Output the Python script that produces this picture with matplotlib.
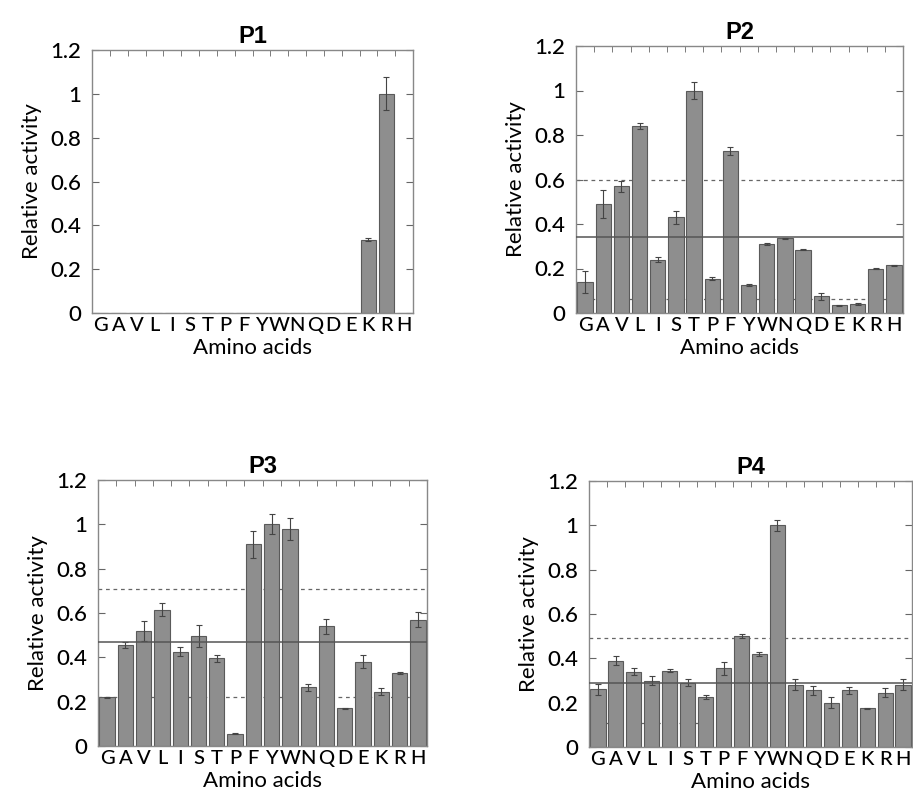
import matplotlib.pyplot as plt
import numpy as np
from matplotlib.ticker import FormatStrFormatter, FixedLocator

amino = ['G', 'A', 'V', 'L', 'I', 'S', 'T', 'P', 'F', 'Y', 'W', 'N', 'Q', 'D', 'E', 'K', 'R', 'H']

p1_vals = [0, 0, 0, 0, 0, 0, 0, 0, 0, 0, 0, 0, 0, 0, 0, 0.335, 1.0, 0]
p1_err = [0, 0, 0, 0, 0, 0, 0, 0, 0, 0, 0, 0, 0, 0, 0, 0.008, 0.075, 0]

p2_vals = [0.14, 0.49, 0.57, 0.84, 0.24, 0.43, 1.0, 0.155, 0.73, 0.125, 0.31, 0.335, 0.285, 0.075, 0.035, 0.042, 0.2, 0.215]
p2_err = [0.05, 0.065, 0.025, 0.015, 0.012, 0.03, 0.04, 0.005, 0.018, 0.004, 0.005, 0.003, 0.003, 0.015, 0.002, 0.004, 0.003, 0.002]
p2_mean, p2_hi, p2_lo = 0.34, 0.6, 0.065

p3_vals = [0.22, 0.455, 0.52, 0.615, 0.425, 0.495, 0.395, 0.055, 0.91, 1.0, 0.98, 0.265, 0.54, 0.17, 0.38, 0.245, 0.33, 0.57]
p3_err = [0.002, 0.015, 0.045, 0.03, 0.02, 0.05, 0.015, 0.003, 0.06, 0.045, 0.05, 0.015, 0.035, 0.003, 0.03, 0.015, 0.003, 0.035]
p3_mean, p3_hi, p3_lo = 0.47, 0.71, 0.22

p4_vals = [0.26, 0.39, 0.34, 0.30, 0.345, 0.29, 0.225, 0.355, 0.50, 0.42, 1.0, 0.28, 0.255, 0.20, 0.255, 0.175, 0.245, 0.28]
p4_err = [0.025, 0.02, 0.015, 0.02, 0.008, 0.015, 0.008, 0.03, 0.01, 0.01, 0.025, 0.025, 0.02, 0.025, 0.015, 0.003, 0.02, 0.025]
p4_mean, p4_hi, p4_lo = 0.29, 0.49, 0.11

W, H = 913, 795
fig = plt.figure(figsize=(W / 100, H / 100), dpi=100)
plt.rcParams['font.family'] = ['Lato', 'DejaVu Sans']


def make_axes(l, t, r, b):
    return fig.add_axes([l / W, 1 - b / H, (r - l) / W, (b - t) / H])


def panel(ax, title, vals, err, lines=None, lo_span=1.0):
    x = np.arange(len(amino))
    if lines is not None:
        mean, hi, lo = lines
        ax.axhline(hi, color='#666666', lw=0.9, ls=(0, (3, 3)), zorder=1)
        ax.axhline(lo, color='#666666', lw=0.9, ls=(0, (3, 3)), xmax=lo_span, zorder=1)
        ax.axhline(mean, color='#555555', lw=1.1, zorder=4)
    ax.bar(x, vals, width=0.84, color='#8e8e8e', edgecolor='#5a5a5a', linewidth=0.8, zorder=2)
    e = np.array(err)
    show = e > 0
    ax.errorbar(x[show], np.array(vals)[show], yerr=e[show], fmt='none',
                ecolor='#444444', elinewidth=0.8, capsize=2, capthick=0.8, zorder=3)
    ax.set_xlim(-0.5, len(amino) - 0.5)
    ax.set_ylim(0, 1.2)
    ax.set_yticks(np.arange(0, 1.21, 0.2))
    ax.yaxis.set_major_formatter(FormatStrFormatter('%g'))
    ax.set_xticks(x)
    ax.set_xticklabels(amino, fontsize=14.5, fontweight='medium')
    ax.xaxis.set_minor_locator(FixedLocator(np.arange(0.5, len(amino) - 1, 1.0)))
    ax.tick_params(axis='x', which='major', length=0, pad=3)
    ax.tick_params(axis='x', which='minor', top=True, bottom=False, direction='in', length=4, color='#666666')
    ax.tick_params(axis='y', direction='in', right=True, length=5, labelsize=16, color='#666666', pad=8)
    for lab in ax.get_yticklabels():
        lab.set_fontweight('medium')
    for sp in ax.spines.values():
        sp.set_color('#888888')
        sp.set_linewidth(1.0)
    ax.set_title(title, fontsize=17, fontweight='bold', family=['Liberation Sans'], pad=5)
    ax.set_xlabel('Amino acids', fontsize=16, labelpad=3)
    ax.set_ylabel('Relative activity', fontsize=16, labelpad=6)


ax1 = make_axes(92, 50, 413, 313)
panel(ax1, 'P1', p1_vals, p1_err)

ax2 = make_axes(576, 46, 903, 313)
panel(ax2, 'P2', p2_vals, p2_err, (p2_mean, p2_hi, p2_lo))

ax3 = make_axes(98, 480, 427, 746)
panel(ax3, 'P3', p3_vals, p3_err, (p3_mean, p3_hi, p3_lo))

ax4 = make_axes(589, 481, 912, 747)
panel(ax4, 'P4', p4_vals, p4_err, (p4_mean, p4_hi, p4_lo), lo_span=0.4)

fig.savefig('out.png', dpi=100)
